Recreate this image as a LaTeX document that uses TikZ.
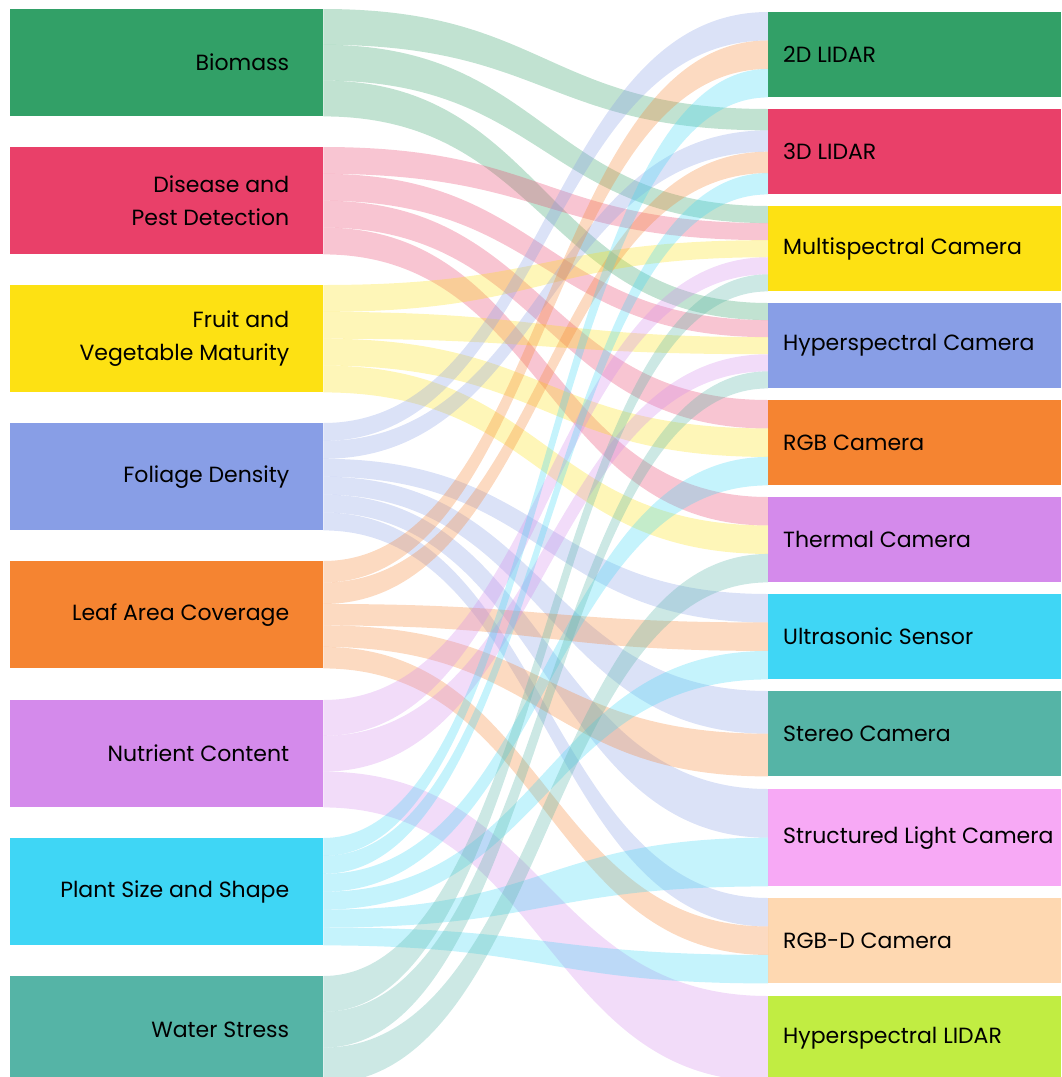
\documentclass[tikz,border=0pt]{standalone}
\usepackage{fontspec}
\setmainfont{Poppins}
\usepackage{xcolor}
\usepackage{tikz}
\usetikzlibrary{positioning,calc}

% node colours (left and right share the palette)
\definecolor{bio}{HTML}{32A067}
\definecolor{dis}{HTML}{E94069}
\definecolor{fru}{HTML}{FDE113}
\definecolor{fol}{HTML}{889EE6}
\definecolor{leaf}{HTML}{F58431}
\definecolor{nut}{HTML}{D48AEB}
\definecolor{plant}{HTML}{3FD6F5}
\definecolor{water}{HTML}{55B4A6}
\colorlet{lidar2}{bio}
\colorlet{lidar3}{dis}
\colorlet{multi}{fru}
\colorlet{hyper}{fol}
\colorlet{rgb}{leaf}
\colorlet{therm}{nut}
\colorlet{ultra}{plant}
\colorlet{stereo}{water}
\definecolor{struct}{HTML}{F7A9F5}
\definecolor{rgbd}{HTML}{FED8B1}
\definecolor{hlidar}{HTML}{C1ED42}

% \ribbon{source}{i}{n}{target}{j}{m}: i-th of n bands leaving source, j-th of m entering target
\newcommand{\ribbon}[6]{%
  \path ($(#1.north east)!{(#2-1)/#3}!(#1.south east)$) coordinate (s1)
        ($(#1.north east)!{#2/#3}!(#1.south east)$) coordinate (s2)
        ($(#4.north west)!{(#5-1)/#6}!(#4.south west)$) coordinate (t1)
        ($(#4.north west)!{#5/#6}!(#4.south west)$) coordinate (t2);
  \fill[flowband=#1] (s1) .. controls +(222,0) and +(-222,0) .. (t1)
    -- (t2) .. controls +(-222,0) and +(222,0) .. (s2) -- cycle;}

\begin{document}
\begin{tikzpicture}[x=1pt, y=-1pt,
    lbox/.style={minimum width=313pt, minimum height=107pt, inner sep=0pt, anchor=north west},
    rbox/.style={minimum width=293pt, minimum height=85pt, inner sep=0pt, anchor=north west},
    txt/.style={font=\fontsize{22}{33}\selectfont, inner sep=0pt, align=right},
    flowband/.style={fill=#1, fill opacity=.3}
  ]
    \useasboundingbox (0,0) rectangle (1061,1077);
    \clip (0,0) rectangle (1061,1077);

    % applications
    \node[lbox, fill=bio]   (bio)   at (10,9)   {};
    \node[lbox, fill=dis]   (dis)   at (10,147) {};
    \node[lbox, fill=fru]   (fru)   at (10,285) {};
    \node[lbox, fill=fol]   (fol)   at (10,423) {};
    \node[lbox, fill=leaf]  (leaf)  at (10,561) {};
    \node[lbox, fill=nut]   (nut)   at (10,700) {};
    \node[lbox, fill=plant] (plant) at (10,838) {};
    \node[lbox, fill=water] (water) at (10,976) {};
    \node[txt, left=34pt of bio.east]   (bio-t)   {Biomass};
    \node[txt, left=34pt of dis.east]   (dis-t)   {Disease and\\Pest Detection};
    \node[txt, left=34pt of fru.east]   (fru-t)   {Fruit and\\Vegetable Maturity};
    \node[txt, left=34pt of fol.east]   (fol-t)   {Foliage Density};
    \node[txt, left=34pt of leaf.east]  (leaf-t)  {Leaf Area Coverage};
    \node[txt, left=34pt of nut.east]   (nut-t)   {Nutrient Content};
    \node[txt, left=34pt of plant.east] (plant-t) {Plant Size and Shape};
    \node[txt, left=34pt of water.east] (water-t) {Water Stress};

    % sensors
    \node[rbox, fill=lidar2] (lidar2) at (768,12)  {};
    \node[rbox, fill=lidar3] (lidar3) at (768,109) {};
    \node[rbox, fill=multi]  (multi)  at (768,206) {};
    \node[rbox, fill=hyper]  (hyper)  at (768,303) {};
    \node[rbox, fill=rgb]    (rgb)    at (768,400) {};
    \node[rbox, fill=therm]  (therm)  at (768,497) {};
    \node[rbox, fill=ultra]  (ultra)  at (768,594) {};
    \node[rbox, fill=stereo] (stereo) at (768,691) {};
    \node[rbox, fill=struct, minimum height=97pt] (struct) at (768,789) {};
    \node[rbox, fill=rgbd]   (rgbd)   at (768,898) {};
    \node[rbox, fill=hlidar] (hlidar) at (768,996) {};
    \node[txt, right=15pt of lidar2.west] (lidar2-t) {2D LIDAR};
    \node[txt, right=15pt of lidar3.west] (lidar3-t) {3D LIDAR};
    \node[txt, right=15pt of multi.west]  (multi-t)  {Multispectral Camera};
    \node[txt, right=15pt of hyper.west]  (hyper-t)  {Hyperspectral Camera};
    \node[txt, right=15pt of rgb.west]    (rgb-t)    {RGB Camera};
    \node[txt, right=15pt of therm.west]  (therm-t)  {Thermal Camera};
    \node[txt, right=15pt of ultra.west]  (ultra-t)  {Ultrasonic Sensor};
    \node[txt, right=15pt of stereo.west] (stereo-t) {Stereo Camera};
    \node[txt, right=15pt of struct.west] (struct-t) {Structured Light Camera};
    \node[txt, right=15pt of rgbd.west]   (rgbd-t)   {RGB-D Camera};
    \node[txt, right=15pt of hlidar.west] (hlidar-t) {Hyperspectral LIDAR};

    % flows
    \ribbon{bio}{1}{3}{lidar3}{1}{4}
    \ribbon{bio}{2}{3}{multi}{1}{5}
    \ribbon{bio}{3}{3}{hyper}{1}{5}
    \ribbon{dis}{1}{4}{multi}{2}{5}
    \ribbon{dis}{2}{4}{hyper}{2}{5}
    \ribbon{dis}{3}{4}{rgb}{1}{3}
    \ribbon{dis}{4}{4}{therm}{1}{3}
    \ribbon{fru}{1}{4}{multi}{3}{5}
    \ribbon{fru}{2}{4}{hyper}{3}{5}
    \ribbon{fru}{3}{4}{rgb}{2}{3}
    \ribbon{fru}{4}{4}{therm}{2}{3}
    \ribbon{fol}{1}{6}{lidar2}{1}{3}
    \ribbon{fol}{2}{6}{lidar3}{2}{4}
    \ribbon{fol}{3}{6}{ultra}{1}{3}
    \ribbon{fol}{4}{6}{stereo}{1}{2}
    \ribbon{fol}{5}{6}{struct}{1}{2}
    \ribbon{fol}{6}{6}{rgbd}{1}{3}
    \ribbon{leaf}{1}{5}{lidar2}{2}{3}
    \ribbon{leaf}{2}{5}{lidar3}{3}{4}
    \ribbon{leaf}{3}{5}{ultra}{2}{3}
    \ribbon{leaf}{4}{5}{stereo}{2}{2}
    \ribbon{leaf}{5}{5}{rgbd}{2}{3}
    \ribbon{nut}{1}{3}{multi}{4}{5}
    \ribbon{nut}{2}{3}{hyper}{4}{5}
    \ribbon{nut}{3}{3}{hlidar}{1}{1}
    \ribbon{plant}{1}{6}{lidar2}{3}{3}
    \ribbon{plant}{2}{6}{lidar3}{4}{4}
    \ribbon{plant}{3}{6}{rgb}{3}{3}
    \ribbon{plant}{4}{6}{ultra}{3}{3}
    \ribbon{plant}{5}{6}{struct}{2}{2}
    \ribbon{plant}{6}{6}{rgbd}{3}{3}
    \ribbon{water}{1}{3}{multi}{5}{5}
    \ribbon{water}{2}{3}{hyper}{5}{5}
    \ribbon{water}{3}{3}{therm}{3}{3}
  \end{tikzpicture}
\end{document}
